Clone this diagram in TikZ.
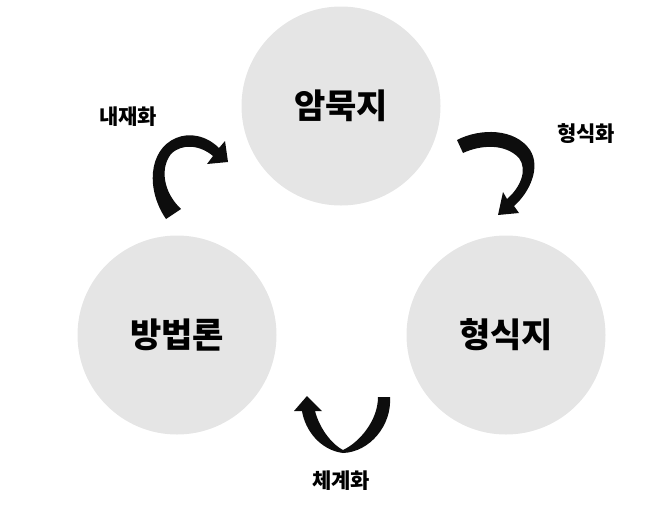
\documentclass[tikz,border=0pt]{standalone}
\usepackage{fontspec}
\newfontfamily\krfont{Noto Sans CJK KR}

\begin{document}
\begin{tikzpicture}[x=1pt,y=-1pt,
    knowledge/.style={circle, fill=black!10, minimum size=199pt, inner sep=0pt,
        font=\krfont\bfseries\fontsize{34}{40}\selectfont},
    phase/.style={font=\krfont\bfseries\fontsize{21}{25}\selectfont},
    turnarrow/.style={fill=black!95}]
    \useasboundingbox (0,0) rectangle (660,512);
    \node[knowledge] (tacit) at (341,106) {암묵지};
    \node[knowledge] (method) at (177,335) {방법론};
    \node[knowledge] (formal) at (506,335) {형식지};
    \node[phase] (inner) at (128,117) {내재화};
    \node[phase] (outer) at (586,134) {형식화};
    \node[phase] (system) at (341,481) {체계화};
    % curved arrows
    \fill[turnarrow] (166,219) .. controls (146,190) and (148,150) .. (176,138)
        .. controls (190,132) and (207,136) .. (219,148) -- (225,141) -- (228,162)
        -- (207,164) -- (213,156) .. controls (200,145) and (182,143) .. (171,154)
        .. controls (160,168) and (163,192) .. (181,209) -- cycle;
    \fill[turnarrow] (457,140) .. controls (480,128) and (515,128) .. (530,150)
        .. controls (541,167) and (530,192) .. (514,206) -- (519,213) -- (498,215)
        -- (503,192) -- (507,199) .. controls (520,188) and (528,170) .. (519,158)
        .. controls (505,143) and (480,145) .. (463,153) -- cycle;
    \fill[turnarrow] (390,397) .. controls (392,425) and (370,452) .. (343,453)
        .. controls (320,450) and (305,430) .. (302,411) -- (294,411) -- (307,396)
        -- (322,411) -- (315,411) .. controls (320,430) and (333,445) .. (343,450)
        .. controls (360,442) and (378,420) .. (378,397) -- cycle;
\end{tikzpicture}
\end{document}
